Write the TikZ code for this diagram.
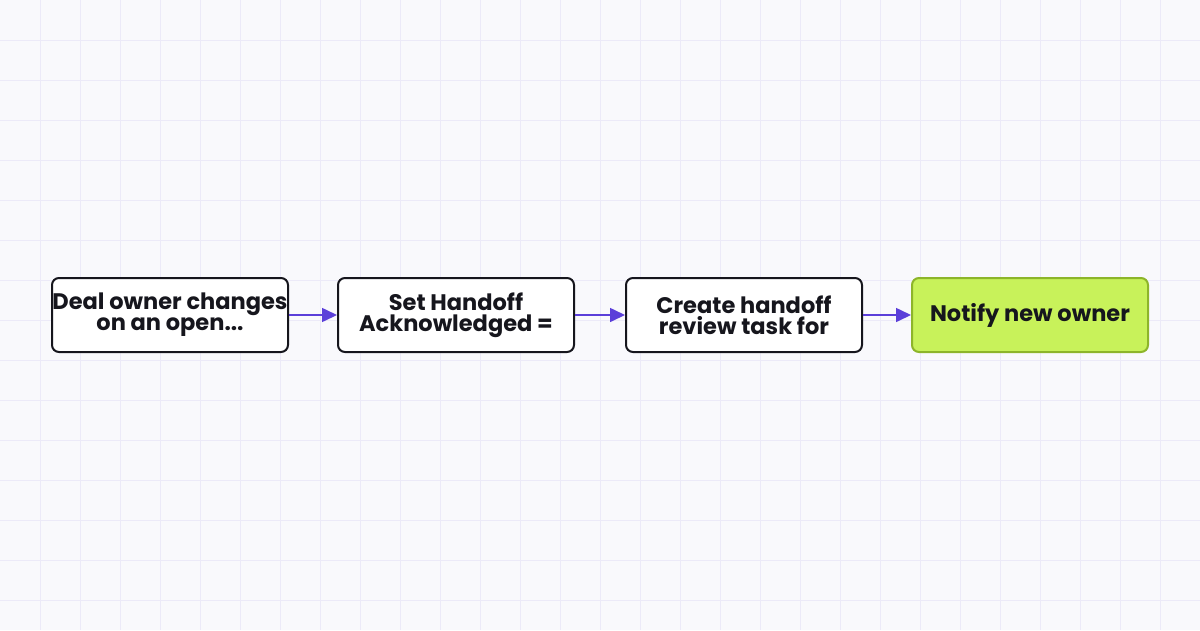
\documentclass[tikz,border=0pt]{standalone}
\usepackage{fontspec}
\setmainfont{Poppins}[BoldFont={* Bold}]
\usetikzlibrary{arrows.meta}
\definecolor{bg}{HTML}{F9F9FC}
\definecolor{gridc}{HTML}{ECEAF8}
\definecolor{arr}{HTML}{5B3FD9}
\definecolor{gfill}{HTML}{C8F25A}
\definecolor{gdraw}{HTML}{8DB52A}
\definecolor{ink}{HTML}{16161D}
\tikzset{
  box/.style={draw=ink, line width=2pt, rounded corners=7pt, fill=white, minimum width=236pt, minimum height=74pt, inner sep=0pt, align=center, font=\fontsize{22.5}{21}\selectfont\bfseries, text=ink},
  green/.style={box, fill=gfill, draw=gdraw},
  link/.style={draw=arr, line width=1.6pt, -{Triangle[length=15pt,width=14pt]}}
}
\begin{document}
\begin{tikzpicture}[x=1pt,y=-1pt]
\useasboundingbox (0,0) rectangle (1200,630);
\fill[bg] (0,0) rectangle (1200,630);
\foreach \x in {40,80,...,1160} \draw[gridc, line width=1pt] (\x,0) -- (\x,630);
\foreach \y in {40,80,...,600} \draw[gridc, line width=1pt] (0,\y) -- (1200,\y);
\node[box] (a) at (170,315) {Deal owner changes\\on an open...};
\node[box] (b) at (456,315) {Set Handoff\\Acknowledged =};
\node[box] (c) at (744,315) {Create handoff\\review task for};
\node[green] (d) at (1030,315) {Notify new owner};
\draw[link] (a) -- (b);
\draw[link] (b) -- (c);
\draw[link] (c) -- (d);
\end{tikzpicture}
\end{document}
